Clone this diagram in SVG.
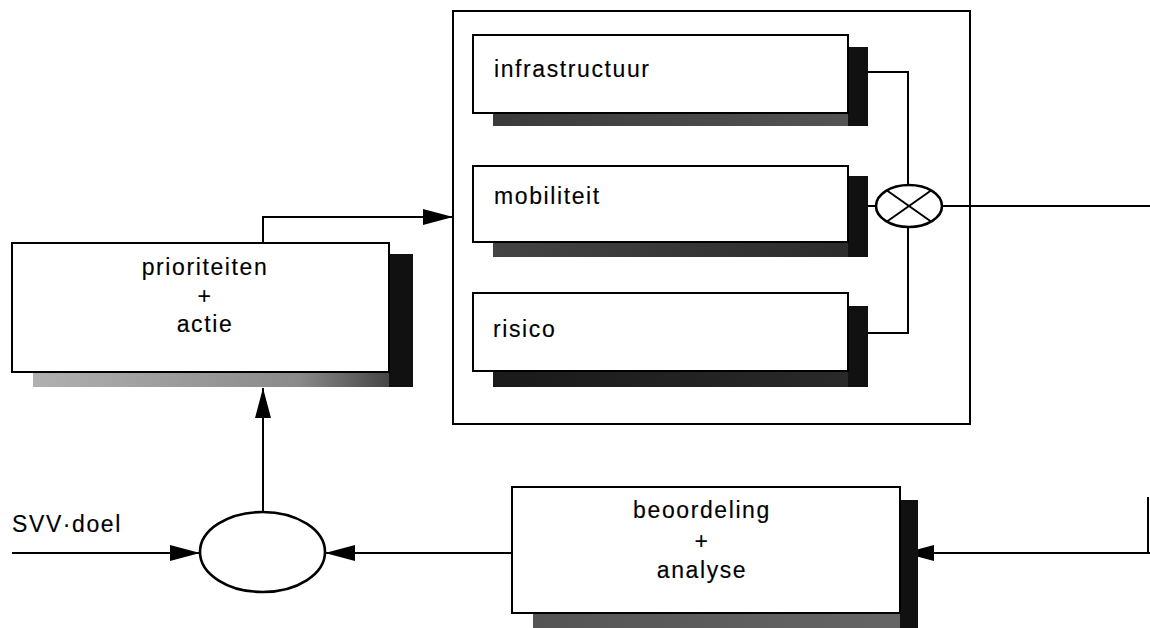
<svg xmlns="http://www.w3.org/2000/svg" width="1150" height="628" viewBox="0 0 1150 628">
<style>
.box{fill:#fff;stroke:#000;stroke-width:2}
.ell{fill:#fff;stroke:#000;stroke-width:2.6}
.dark{fill:#111}
.ln{fill:none;stroke:#000;stroke-width:2}
.t{font-family:"Liberation Sans",Arial,Helvetica,sans-serif;font-size:23px;letter-spacing:1.6px;fill:#000;stroke:#000;stroke-width:0.15}
.c{text-anchor:middle}
</style>
<defs>
<marker id="ah" viewBox="0 0 30 16" refX="30" refY="8" markerWidth="30" markerHeight="16" markerUnits="userSpaceOnUse" orient="auto">
<path d="M0,0 L30,8 L0,16 Z" fill="#000"/>
</marker>
<linearGradient id="gP" x1="0" x2="1" y1="0" y2="0"><stop offset="0" stop-color="#b0b0b0"/><stop offset="0.7" stop-color="#8a8a8a"/><stop offset="1" stop-color="#333"/></linearGradient>
<linearGradient id="gI" x1="0" x2="1" y1="0" y2="0"><stop offset="0" stop-color="#3a3a3a"/><stop offset="1" stop-color="#555"/></linearGradient>
<linearGradient id="gM" x1="0" x2="1" y1="0" y2="0"><stop offset="0" stop-color="#444"/><stop offset="1" stop-color="#2a2a2a"/></linearGradient>
<linearGradient id="gR" x1="0" x2="1" y1="0" y2="0"><stop offset="0" stop-color="#1a1a1a"/><stop offset="1" stop-color="#2a2a2a"/></linearGradient>
<linearGradient id="gB" x1="0" x2="1" y1="0" y2="0"><stop offset="0" stop-color="#555"/><stop offset="1" stop-color="#666"/></linearGradient>
</defs>

<g id="container">
<rect class="box" x="453" y="11" width="517" height="413"/>
</g>

<g id="connectors">
<polyline class="ln" points="263,243 263,217 453,217" marker-end="url(#ah)"/>
<line class="ln" x1="263" y1="512" x2="263" y2="388" marker-end="url(#ah)"/>
<line class="ln" x1="12" y1="553" x2="200" y2="553" marker-end="url(#ah)"/>
<line class="ln" x1="512" y1="553" x2="325" y2="553" marker-end="url(#ah)"/>
<line class="ln" x1="1150" y1="553" x2="904" y2="553" marker-end="url(#ah)"/>
<line class="ln" x1="1148" y1="497" x2="1148" y2="553"/>
<polyline class="ln" points="868,72 908,72 908,185"/>
<polyline class="ln" points="868,333 908,333 908,227"/>
<line class="ln" x1="868" y1="206" x2="876" y2="206"/>
<line class="ln" x1="942" y1="206" x2="1150" y2="206"/>
</g>

<g id="infrastructuur">
<rect x="493" y="113" width="375" height="13" fill="url(#gI)"/>
<rect class="dark" x="848" y="47" width="20" height="79"/>
<rect class="box" x="473" y="35" width="375" height="78"/>
<text class="t" x="494" y="77">infrastructuur</text>
</g>

<g id="mobiliteit">
<rect x="493" y="242" width="375" height="15" fill="url(#gM)"/>
<rect class="dark" x="848" y="176" width="20" height="81"/>
<rect class="box" x="473" y="166" width="375" height="76"/>
<text class="t" x="494" y="204">mobiliteit</text>
</g>

<g id="risico">
<rect x="493" y="371" width="375" height="16" fill="url(#gR)"/>
<rect class="dark" x="848" y="306" width="20" height="81"/>
<rect class="box" x="473" y="293" width="375" height="78"/>
<text class="t" x="493" y="337">risico</text>
</g>

<g id="multiplier">
<ellipse class="ell" cx="909" cy="206" rx="33" ry="21"/>
<line class="ln" x1="887" y1="190.5" x2="931" y2="221.5" stroke-width="2.6"/>
<line class="ln" x1="887" y1="221.5" x2="931" y2="190.5" stroke-width="2.6"/>
</g>

<g id="prioriteiten">
<rect x="33" y="372" width="380" height="15" fill="url(#gP)"/>
<rect class="dark" x="389" y="254" width="24" height="133"/>
<rect class="box" x="12" y="243" width="377" height="129"/>
<text class="t c" x="205" y="275">prioriteiten</text>
<text class="t c" x="205" y="304">+</text>
<text class="t c" x="205" y="332">actie</text>
</g>

<g id="vergelijker">
<ellipse class="ell" cx="262.5" cy="552" rx="62.5" ry="40"/>
</g>

<g id="svv">
<text class="t" x="12" y="532">SVV·doel</text>
</g>

<g id="beoordeling">
<rect x="533" y="613" width="385" height="15" fill="url(#gB)"/>
<rect class="dark" x="900" y="500" width="18" height="128"/>
<rect class="box" x="512" y="487" width="388" height="126"/>
<text class="t c" x="702" y="518">beoordeling</text>
<text class="t c" x="702" y="549">+</text>
<text class="t c" x="702" y="578">analyse</text>
</g>
</svg>
